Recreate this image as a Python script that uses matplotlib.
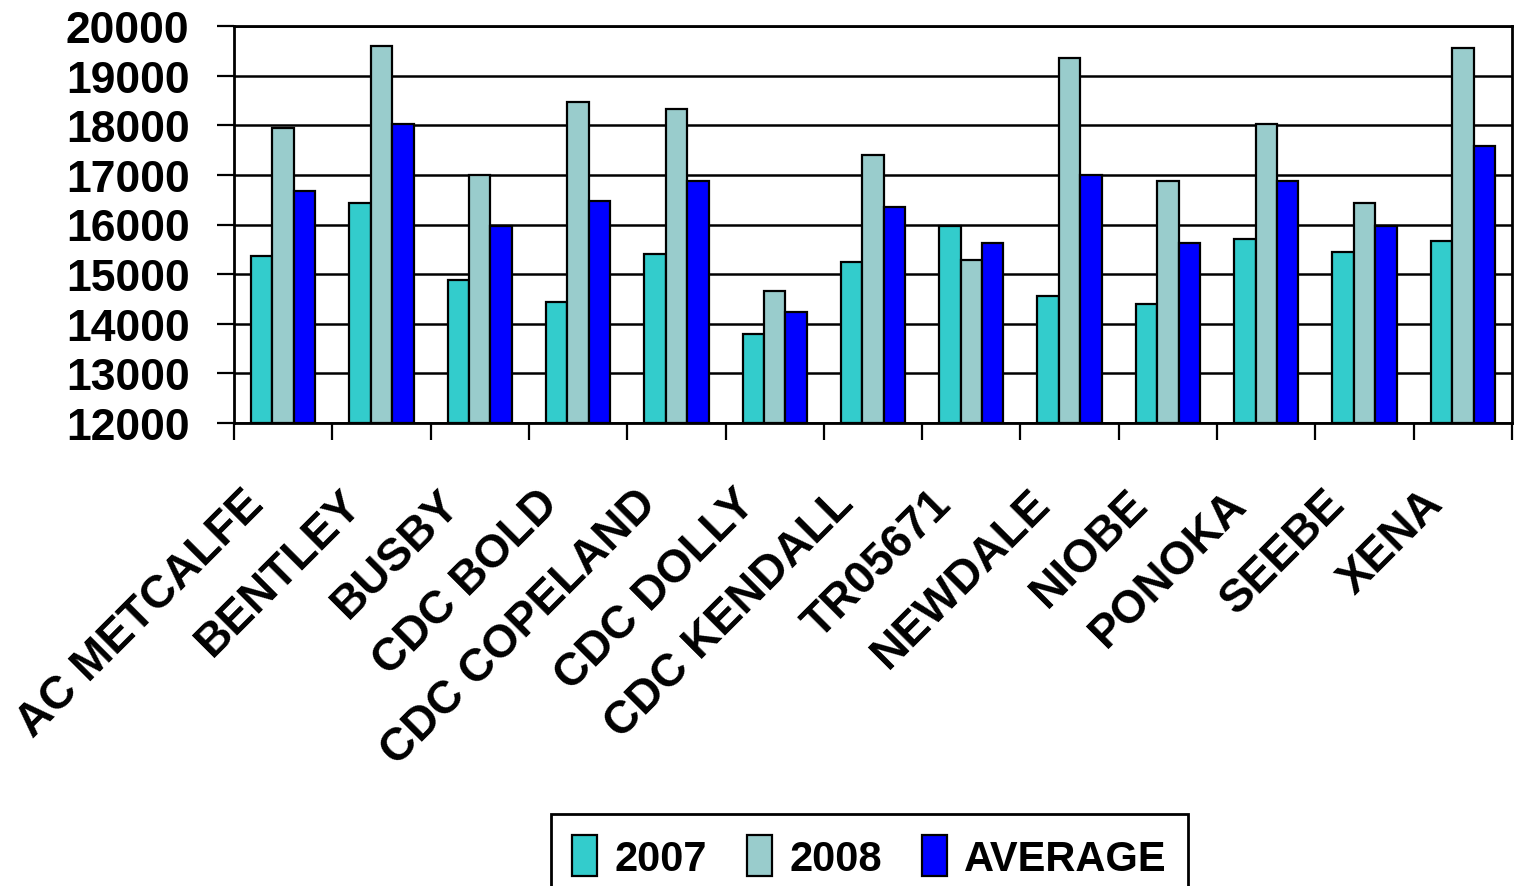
import numpy as np
import matplotlib
matplotlib.use("Agg")
import matplotlib.pyplot as plt
from matplotlib.ticker import FixedLocator
from matplotlib.transforms import ScaledTranslation

# Grain yield by variety
varieties = ["AC METCALFE", "BENTLEY", "BUSBY", "CDC BOLD", "CDC COPELAND",
             "CDC DOLLY", "CDC KENDALL", "TR05671", "NEWDALE", "NIOBE",
             "PONOKA", "SEEBE", "XENA"]
yield_2007 = [15370, 16430, 14880, 14430, 15410, 13790, 15240, 15960,
              14560, 14390, 15700, 15450, 15660]
yield_2008 = [17950, 19590, 16990, 18470, 18320, 14670, 17400, 15290,
              19350, 16870, 18030, 16440, 19550]
yield_avg = [16670, 18030, 15960, 16470, 16870, 14230, 16350, 15620,
             16990, 15620, 16870, 15960, 17590]
series_names = ["2007", "2008", "AVERAGE"]
series_colors = ["#33CCCC", "#99CCCC", "#0000FF"]
y_ticks = list(range(12000, 20001, 1000))

plt.rcParams["font.family"] = ["Liberation Sans", "DejaVu Sans"]
plt.rcParams["font.weight"] = "bold"

fig = plt.figure(figsize=(15.16, 8.87), dpi=100)
ax = fig.add_axes([234 / 1516, 1 - 424 / 887, (1512 - 234) / 1516, (424 - 27) / 887])

x = np.arange(len(varieties))
width = 0.218
handles = []
for k, (vals, color, name) in enumerate(zip([yield_2007, yield_2008, yield_avg],
                                            series_colors, series_names)):
    bars = ax.bar(x + (k - 1) * width, np.array(vals) - 12000, bottom=12000,
                  width=width, color=color, edgecolor="black", linewidth=1.6,
                  label=name, zorder=3)
    handles.append(bars)

ax.set_xlim(-0.5, len(varieties) - 0.5)
ax.set_ylim(12000, 20000)
ax.set_yticks(y_ticks)
ax.set_yticklabels([str(v) for v in y_ticks])
ax.yaxis.grid(True, color="black", linewidth=1.8, zorder=1)
ax.set_axisbelow(True)

# tick marks sit on the category boundaries, labels hang below the centres
ax.xaxis.set_major_locator(FixedLocator(x))
ax.xaxis.set_minor_locator(FixedLocator(np.arange(-0.5, len(varieties), 1.0)))
ax.set_xticklabels(varieties, rotation=45, ha="right", rotation_mode="anchor")
ax.tick_params(axis="x", which="major", length=0, pad=0, labelsize=33)
ax.tick_params(axis="x", which="minor", length=12.5, width=1.6, direction="out")
ax.tick_params(axis="y", which="major", length=12, width=1.6, direction="out",
               pad=20, labelsize=32)
label_shift = ScaledTranslation(-0.42, -0.58, fig.dpi_scale_trans)
for lbl in ax.get_xticklabels():
    lbl.set_fontweight("bold")
    lbl.set_transform(lbl.get_transform() + label_shift)
for lbl in ax.get_yticklabels():
    lbl.set_fontweight("bold")

for side in ["left", "bottom", "top", "right"]:
    ax.spines[side].set_linewidth(2.0)
    ax.spines[side].set_color("black")

leg = fig.legend(handles=handles, labels=series_names, loc="upper center",
                 bbox_to_anchor=(869.5 / 1516, 1 - 815 / 887), ncol=3, frameon=True,
                 fancybox=False, edgecolor="black", framealpha=1.0,
                 prop={"family": "Liberation Sans", "weight": "bold", "size": 30},
                 handlelength=0.6, handleheight=1.15, handletextpad=0.42,
                 columnspacing=0.95, borderpad=0.5, borderaxespad=0)
leg.get_frame().set_linewidth(2.0)

fig.savefig("out.png", dpi=100)
